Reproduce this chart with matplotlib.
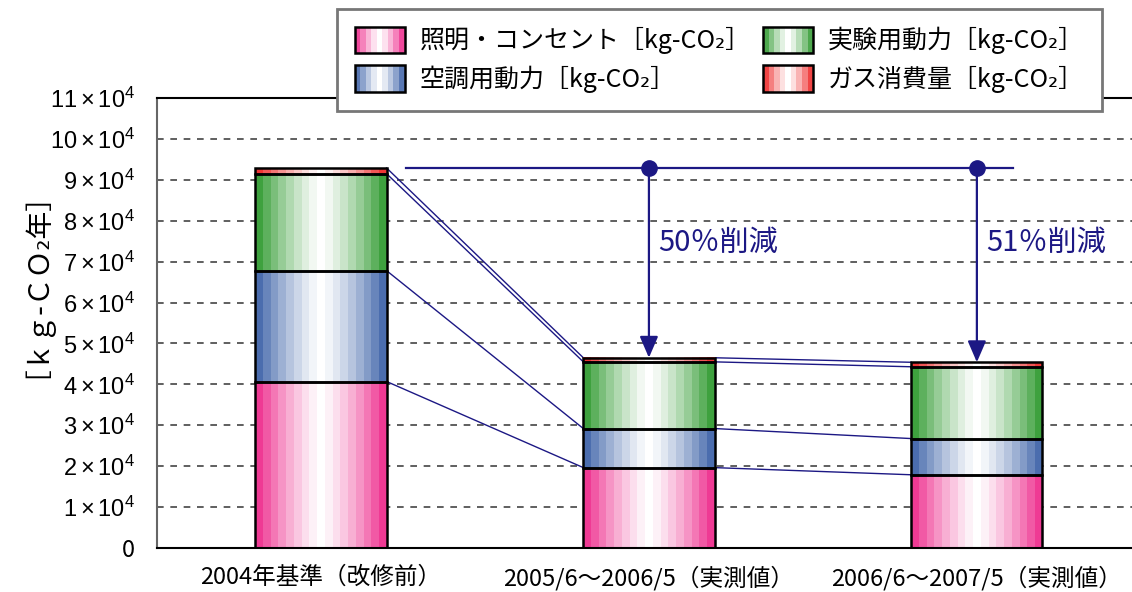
import numpy as np
import matplotlib
matplotlib.use('Agg')
import matplotlib.pyplot as plt
from matplotlib.patches import Patch, Rectangle
from matplotlib.legend_handler import HandlerBase
from matplotlib.colors import to_rgb

plt.rcParams['font.family'] = ['Noto Sans CJK JP', 'DejaVu Sans']
plt.rcParams['mathtext.fontset'] = 'custom'
plt.rcParams['mathtext.rm'] = 'Liberation Sans'
plt.rcParams['mathtext.it'] = 'Liberation Sans:italic'

# --- データ (kg-CO2/年) ---
periods = ['2004年基準（改修前）', '2005/6～2006/5（実測値）', '2006/6～2007/5（実測値）']
lighting = [40700, 19650, 17900]      # 照明・コンセント
hvac = [27100, 9550, 8850]            # 空調用動力
experiment = [23700, 16300, 17550]    # 実験用動力
gas = [1400, 1000, 1100]              # ガス消費量

series = [lighting, hvac, experiment, gas]
labels = ['照明・コンセント［kg-CO₂］', '空調用動力［kg-CO₂］',
          '実験用動力［kg-CO₂］', 'ガス消費量［kg-CO₂］']
colors = ['#ee2a8c', '#3d62a8', '#2f9a2f', '#ee2626']
navy = '#1c1884'


def band_colors(color, n=17):
    """端が濃く中央が白くなる段階的グラデーション"""
    c = np.array(to_rgb(color))
    t = (np.arange(n) + 0.5) / n
    w = np.abs(2 * t - 1) ** 1.3
    return w[:, None] * c + (1 - w[:, None]) * np.ones(3)


class GradientHandler(HandlerBase):
    def create_artists(self, legend, orig_handle, xdescent, ydescent,
                       width, height, fontsize, trans):
        cols = band_colors(orig_handle.get_facecolor(), n=9)
        n = len(cols)
        arts = []
        for i, c in enumerate(cols):
            arts.append(Rectangle((-xdescent + i * width / n, -ydescent), width / n, height,
                                  facecolor=c, edgecolor='none', transform=trans))
        arts.append(Rectangle((-xdescent, -ydescent), width, height, facecolor='none',
                              edgecolor='black', lw=1.8, transform=trans))
        return arts


fig = plt.figure(figsize=(11.32, 5.92), dpi=100)
ax = fig.add_axes([157 / 1132, 1 - 548 / 592, 1 - 157 / 1132, 450 / 592])

x = np.arange(len(periods))
width = 0.40

# 積み上げ棒 (グラデーション + 黒枠)
cum = np.zeros(len(periods))
tops = []
for vals, col in zip(series, colors):
    vals = np.array(vals, dtype=float)
    grad = band_colors(col)[np.newaxis, :, :]
    for xi, b, v in zip(x, cum, vals):
        ax.imshow(grad, extent=(xi - width / 2, xi + width / 2, b, b + v),
                  aspect='auto', interpolation='nearest', zorder=2)
    ax.bar(x, vals, width, bottom=cum, facecolor='none', edgecolor='black',
           linewidth=1.8, zorder=3)
    cum = cum + vals
    tops.append(cum.copy())

# 各積み上げ位置を結ぶ線
for top in tops:
    for i in range(len(x) - 1):
        ax.plot([x[i] + width / 2, x[i + 1] - width / 2], [top[i], top[i + 1]],
                color=navy, lw=1.0, zorder=1.5)

# 削減率の矢印
totals = cum
level = totals[0]
ax.plot([x[0] + 0.26, x[-1] + 0.11], [level, level], color=navy, lw=1.6, zorder=4)
for i in range(1, len(x)):
    ax.plot(x[i], level, 'o', ms=11, color=navy, zorder=5)
    ax.annotate('', xy=(x[i], totals[i]), xytext=(x[i], level),
                arrowprops=dict(arrowstyle='-|>,head_length=0.65,head_width=0.28',
                                color=navy, lw=1.6, shrinkA=0, shrinkB=0,
                                mutation_scale=20), zorder=5)
    pct = round((1 - totals[i] / totals[0]) * 100)
    ax.text(x[i] + 0.027, 74600, f'{pct}％削減', color=navy, fontsize=21,
            ha='left', va='center', zorder=5)

# 軸
ax.set_xlim(-0.5, 2.473)
ax.set_ylim(0, 110000)
ax.set_yticks(np.arange(0, 110001, 10000))
ax.set_yticklabels(['0'] + [r'$%d\times10^{4}$' % k for k in range(1, 12)], fontsize=17)
ax.set_xticks(x)
ax.set_xticklabels(periods, fontsize=17)
ax.tick_params(axis='both', length=0)
ax.tick_params(axis='y', pad=16)
ax.tick_params(axis='x', pad=13)
ax.yaxis.grid(True, linestyle=(0, (4, 4)), color='#444444', lw=1.2, zorder=0)
ax.set_axisbelow(True)
ax.spines['right'].set_visible(False)
ax.spines['left'].set_color('#666666')
for s in ['left', 'top', 'bottom']:
    ax.spines[s].set_linewidth(1.5)

fig.text(22 / 1132, 1 - 270 / 592, '［ｋｇ-ＣＯ₂年］', rotation=90, fontsize=20,
         ha='center', va='center')

handles = [Patch(facecolor=c, label=l) for c, l in zip(colors, labels)]
leg = fig.legend(handles=handles, loc='upper left', ncol=2,
                 bbox_to_anchor=(337 / 1132, 1 - 9 / 592), bbox_transform=fig.transFigure,
                 borderaxespad=0, fontsize=18, handler_map={Patch: GradientHandler()},
                 handlelength=2.0, handleheight=1.25, handletextpad=0.6,
                 columnspacing=0.5, labelspacing=0.45, borderpad=0.7,
                 fancybox=False, framealpha=1, edgecolor='#777777')
leg.get_frame().set_linewidth(2)

fig.savefig('out.png', dpi=100)
